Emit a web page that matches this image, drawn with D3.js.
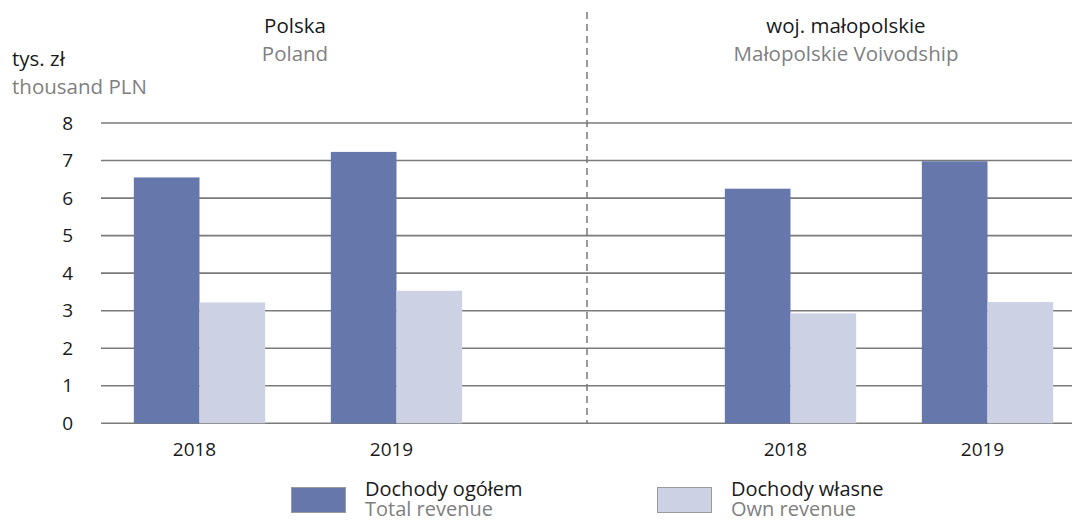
<!DOCTYPE html>
<html>
<head>
<meta charset="utf-8">
<script src="https://cdn.jsdelivr.net/npm/d3@7"></script>
<style>
  html, body { margin: 0; padding: 0; background: #fff; }
  svg { display: block; font-family: "Open Sans", "Noto Sans", sans-serif; }
</style>
</head>
<body>
<svg id="chart" width="1072" height="521"></svg>
<script>
// ---- data ----
const slots = ["PL-2018", "PL-2019", "gap", "MP-2018", "MP-2019"];
const slotYears = ["2018", "2019", "", "2018", "2019"];
const barSlots = ["PL-2018", "PL-2019", "MP-2018", "MP-2019"];
const totalRevenue = [6.55, 7.23, 6.25, 6.98];
const ownRevenue = [3.22, 3.53, 2.93, 3.23];
const yTicks = [0, 1, 2, 3, 4, 5, 6, 7, 8];
const seriesKeys = ["total", "own"];
const seriesPL = ["Dochody ogółem", "Dochody własne"];
const seriesEN = ["Total revenue", "Own revenue"];
const regionPL = ["Polska", "woj. małopolskie"];
const regionEN = ["Poland", "Małopolskie Voivodship"];
const unitPL = "tys. zł";
const unitEN = "thousand PLN";

// ---- styles ----
const colors = { total: "#6677ab", own: "#ccd2e4" };
const textDark = "#1a1a1a";
const textGray = "#7f7f7f";
const gridColor = "#7a7a7a";
const fs = 20.5;
const fsLegend = 20;
const fsTick = 19;

const svg = d3.select("#chart");
const W = 1072;
const plotLeft = 101, slotW = 197;
const yTop = 123, yBottom = 423.3;

const x = d3.scaleBand().domain(slots).range([plotLeft, plotLeft + slots.length * slotW]).padding(0);
const xs = d3.scaleBand().domain(seriesKeys).range([0, x.bandwidth()]).paddingInner(0).paddingOuter(0.5);
const y = d3.scaleLinear().domain([0, 8]).range([yBottom, yTop]);

// gridlines
svg.append("g").selectAll("line").data(yTicks).join("line")
  .attr("x1", plotLeft).attr("x2", W)
  .attr("y1", d => y(d)).attr("y2", d => y(d))
  .attr("stroke", gridColor).attr("stroke-width", 1.6);

// y tick labels via axis
const yAxis = svg.append("g").attr("transform", `translate(${plotLeft},0)`)
  .call(d3.axisLeft(y).tickValues(yTicks).tickSize(0).tickPadding(28).tickFormat(d3.format("d")));
yAxis.select(".domain").remove();
yAxis.selectAll("text").attr("font-size", fsTick).attr("fill", textDark).attr("font-family", "Open Sans, sans-serif");

// separator
svg.append("line")
  .attr("x1", 587).attr("x2", 587).attr("y1", 12).attr("y2", y(0))
  .attr("stroke", gridColor).attr("stroke-width", 1.5).attr("stroke-dasharray", "7,5");

// bars
const barData = [];
barSlots.forEach((s, i) => {
  barData.push({ slot: s, key: "total", v: totalRevenue[i] });
  barData.push({ slot: s, key: "own", v: ownRevenue[i] });
});
svg.append("g").selectAll("rect").data(barData).join("rect")
  .attr("x", d => x(d.slot) + xs(d.key))
  .attr("width", xs.bandwidth())
  .attr("y", d => y(d.v))
  .attr("height", d => y(0) - y(d.v))
  .attr("fill", d => colors[d.key]);

// x labels
const xAxis = svg.append("g").attr("transform", `translate(-5,${y(0)})`)
  .call(d3.axisBottom(x).tickSize(0).tickPadding(19).tickFormat((d, i) => slotYears[i]));
xAxis.select(".domain").remove();
xAxis.selectAll("text").attr("font-size", fsTick).attr("fill", textDark).attr("font-family", "Open Sans, sans-serif");

// region titles
const titleX = [295, 846];
regionPL.forEach((t, i) => {
  svg.append("text").attr("x", titleX[i]).attr("y", 33).attr("text-anchor", "middle")
    .attr("font-size", fs).attr("fill", textDark).text(t);
  svg.append("text").attr("x", titleX[i]).attr("y", 61).attr("text-anchor", "middle")
    .attr("font-size", fs).attr("fill", textGray).text(regionEN[i]);
});

// unit
svg.append("text").attr("x", 12).attr("y", 66).attr("font-size", fs).attr("fill", textDark).text(unitPL);
svg.append("text").attr("x", 12).attr("y", 94).attr("font-size", fs).attr("fill", textGray).text(unitEN);

// legend
const legX = [291, 657];
seriesKeys.forEach((k, i) => {
  svg.append("rect").attr("x", legX[i] + 0.5).attr("y", 487.5).attr("width", 54).attr("height", 25)
    .attr("fill", colors[k]).attr("stroke", "#9a9a9a").attr("stroke-width", 1);
  svg.append("text").attr("x", legX[i] + 74).attr("y", 496).attr("font-size", fsLegend).attr("fill", textDark).text(seriesPL[i]);
  svg.append("text").attr("x", legX[i] + 74).attr("y", 516).attr("font-size", fsLegend).attr("fill", textGray).text(seriesEN[i]);
});
</script>
</body>
</html>
